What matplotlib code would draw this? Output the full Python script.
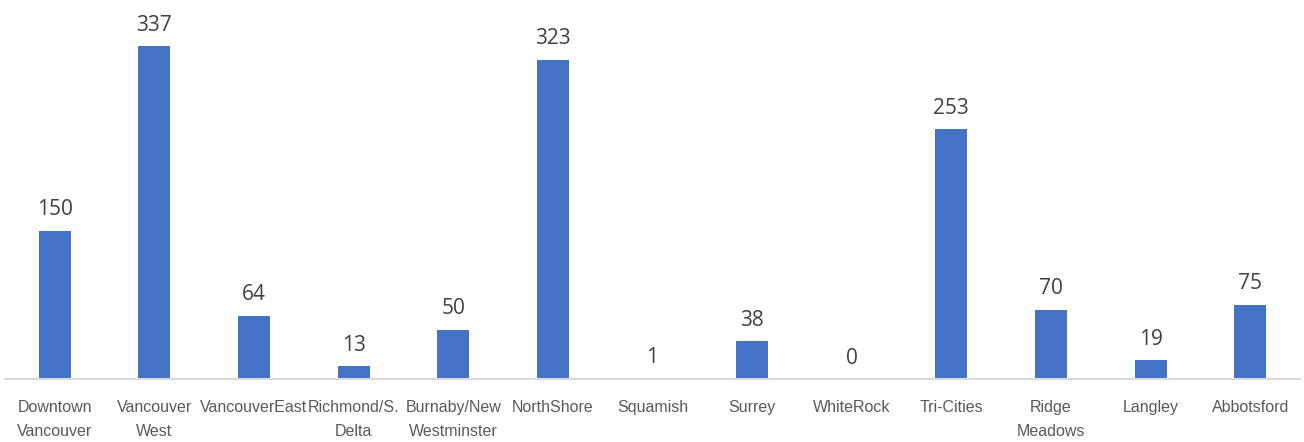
import matplotlib
matplotlib.use("Agg")
import matplotlib.pyplot as plt

categories = ["Downtown\nVancouver", "Vancouver\nWest", "VancouverEast", "Richmond/S.\nDelta",
              "Burnaby/New\nWestminster", "NorthShore", "Squamish", "Surrey", "WhiteRock",
              "Tri-Cities", "Ridge\nMeadows", "Langley", "Abbotsford"]
values = [150, 337, 64, 13, 50, 323, 1, 38, 0, 253, 70, 19, 75]

fig = plt.figure(figsize=(13.04, 4.42), dpi=100)
ax = fig.add_axes([5/1304, 63/442, 1295/1304, 379/442])
x = list(range(len(categories)))
bars = ax.bar(x, values, width=0.32, color="#4472C4", zorder=2)
ax.set_xlim(-0.5, len(categories) - 0.5)
ax.set_ylim(0, 383.6)
for xi, v in zip(x, values):
    ax.annotate(str(v), (xi, v), xytext=(0, 7.5), textcoords="offset points",
                ha="center", va="bottom", fontsize=15, color="#404040",
                family="Open Sans")
ax.set_xticks(x)
ax.set_xticklabels(categories, family="Liberation Sans", fontsize=11.5, color="#595959",
                   linespacing=1.75)
ax.tick_params(axis="x", length=0, pad=15)
ax.set_yticks([])
for s in ["top", "left", "right"]:
    ax.spines[s].set_visible(False)
ax.spines["bottom"].set_color("#D9D9D9")
ax.spines["bottom"].set_linewidth(1.5)
fig.savefig("out.png", dpi=100, facecolor="white")
